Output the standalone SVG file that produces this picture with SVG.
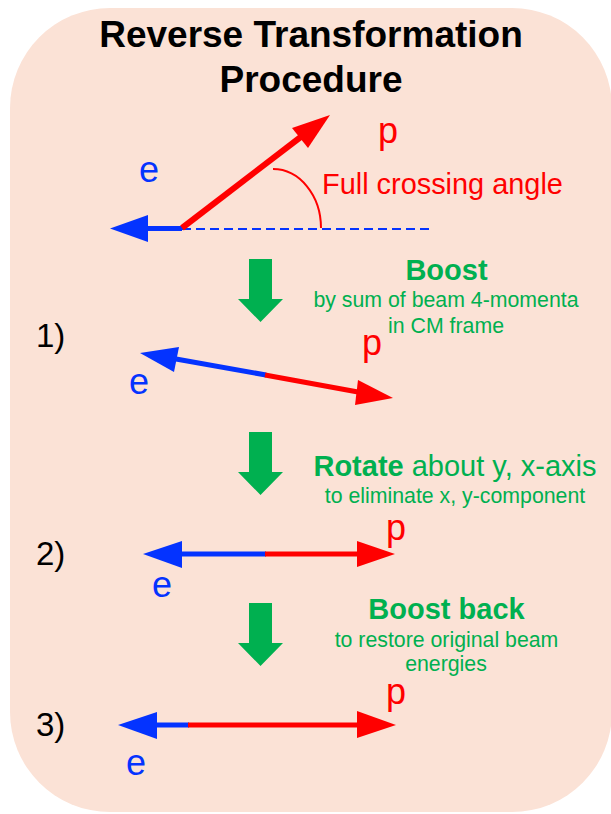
<svg xmlns="http://www.w3.org/2000/svg" width="611" height="814" viewBox="0 0 611 814">
<style>
  text { font-family: "Liberation Sans", Arial, sans-serif; }
  .title { font-size: 37px; font-weight: bold; fill: #000; text-anchor: middle; }
  .num { font-size: 33px; fill: #000; }
  .lblE { font-size: 36px; fill: #0433FF; }
  .lblP { font-size: 36px; fill: #FF0000; }
  .head { font-size: 29px; fill: #00B050; text-anchor: middle; }
  .sub { font-size: 21.3px; fill: #00B050; text-anchor: middle; }
  .b { font-weight: bold; }
  .blue { stroke: #0433FF; stroke-width: 5; fill: none; }
  .red { stroke: #FF0000; stroke-width: 5; fill: none; }
  .bh { fill: #0433FF; }
  .rh { fill: #FF0000; }
  .green { fill: #00B050; }
</style>
<rect x="10" y="8" width="602" height="804" rx="100" ry="100" fill="#FBE2D6"/>

<g id="title">
  <text class="title" x="311" y="47">Reverse Transformation</text>
  <text class="title" x="311" y="92">Procedure</text>
</g>

<g id="initial">
  <line x1="182" y1="229" x2="430" y2="229" stroke="#0433FF" stroke-width="2.2" stroke-dasharray="9 5"/>
  <line class="blue" x1="182" y1="228.5" x2="146" y2="228.5"/>
  <polygon class="bh" points="110,228.5 148,215 148,242"/>
  <line class="red" style="stroke-width:6" x1="182" y1="228" x2="302" y2="136"/>
  <polygon class="rh" points="330,115 292,128 308,148"/>
  <path d="M273,169 A48,59 0 0 1 321,228" fill="none" stroke="#FF0000" stroke-width="2"/>
  <text class="lblE" x="139" y="182">e</text>
  <text class="lblP" x="378" y="143">p</text>
  <text x="322" y="194" font-size="28.9" fill="#FF0000">Full crossing angle</text>
</g>

<g id="step1">
  <text class="num" x="36" y="347">1)</text>
  <line class="blue" x1="266" y1="375" x2="176" y2="359"/>
  <polygon class="bh" points="140,353 179,347 174,372"/>
  <line class="red" x1="265" y1="375" x2="358" y2="392"/>
  <polygon class="rh" points="393,398 358,380 355,405"/>
  <text class="lblE" x="129" y="394">e</text>
  <text class="lblP" x="362" y="355">p</text>
  <text class="head b" x="446.5" y="280">Boost</text>
  <text class="sub" x="446" y="307">by sum of beam 4-momenta</text>
  <text class="sub" x="446" y="333">in CM frame</text>
</g>

<g id="step2">
  <text class="num" x="36" y="565">2)</text>
  <line class="blue" x1="266" y1="554" x2="180" y2="554"/>
  <polygon class="bh" points="143,554 182,541 182,568"/>
  <line class="red" x1="265" y1="554" x2="359" y2="554"/>
  <polygon class="rh" points="395,554 357,541 357,567"/>
  <text class="lblE" x="152" y="597">e</text>
  <text class="lblP" x="386" y="540">p</text>
  <text class="head" x="455" y="476"><tspan class="b">Rotate</tspan> about y, x-axis</text>
  <text class="sub" x="455" y="503">to eliminate x, y-component</text>
</g>

<g id="step3">
  <text class="num" x="36" y="736">3)</text>
  <line class="blue" x1="189" y1="725" x2="155" y2="725"/>
  <polygon class="bh" points="118,725 157,712 157,739"/>
  <line class="red" x1="188" y1="725" x2="359" y2="725"/>
  <polygon class="rh" points="396,725 357,711 357,738"/>
  <text class="lblE" x="126" y="775">e</text>
  <text class="lblP" x="386" y="704">p</text>
  <text class="head b" x="446.5" y="619">Boost back</text>
  <text class="sub" x="446.5" y="647">to restore original beam</text>
  <text class="sub" x="446" y="671">energies</text>
</g>

<g id="connectors">
  <polygon class="green" points="249,259 272,259 272,299 283,299 260.5,322 238,299 249,299"/>
  <polygon class="green" points="249,432 272,432 272,472 283,472 260.5,495 238,472 249,472"/>
  <polygon class="green" points="249,603 272,603 272,643 283,643 260.5,666 238,643 249,643"/>
</g>
</svg>
